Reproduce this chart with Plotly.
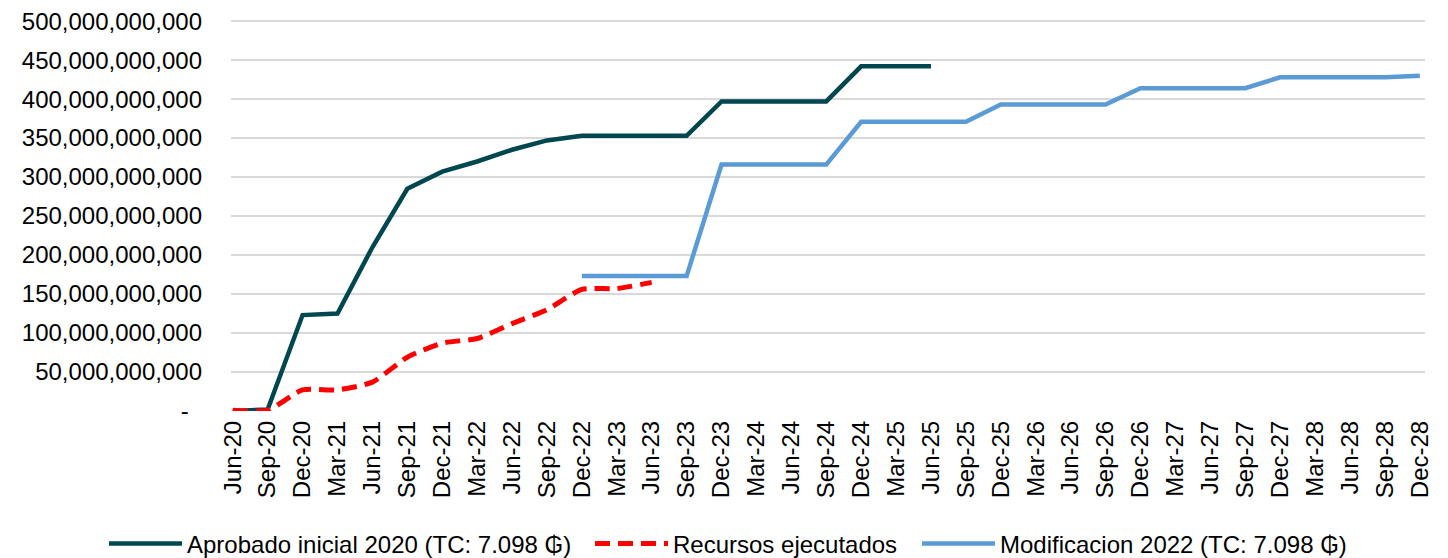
import plotly.graph_objects as go

categories = ["Jun-20", "Sep-20", "Dec-20", "Mar-21", "Jun-21", "Sep-21", "Dec-21",
              "Mar-22", "Jun-22", "Sep-22", "Dec-22", "Mar-23", "Jun-23", "Sep-23",
              "Dec-23", "Mar-24", "Jun-24", "Sep-24", "Dec-24", "Mar-25", "Jun-25",
              "Sep-25", "Dec-25", "Mar-26", "Jun-26", "Sep-26", "Dec-26", "Mar-27",
              "Jun-27", "Sep-27", "Dec-27", "Mar-28", "Jun-28", "Sep-28", "Dec-28"]

B = 1e9
aprobado = [0, 2, 123, 125, 210, 285, 307, 320, 335, 347, 353, 353, 353, 353,
            397, 397, 397, 397, 442, 442, 442]
ejecutados = [1, 1, 27, 27, 37, 69, 87, 93, 112, 130, 156, 157, 165]
modificacion = [None] * 10 + [173, 173, 173, 173, 316, 316, 316, 316, 371, 371, 371, 371,
                              393, 393, 393, 393, 414, 414, 414, 414, 428, 428, 428, 428, 430]

y_tickvals = [0, 50, 100, 150, 200, 250, 300, 350, 400, 450, 500]
y_ticktext = ["-\u00a0\u00a0"] + [f"{v * 1_000_000_000:,}" for v in y_tickvals[1:]]

def scale(vals):
    return [None if v is None else v * B for v in vals]

FONT = "Liberation Sans, Arial, DejaVu Sans, sans-serif"
W, H = 1440, 550  # page body has an 8px margin

fig = go.Figure()
fig.add_trace(go.Scatter(
    x=categories[:len(aprobado)], y=scale(aprobado), mode="lines",
    name="Aprobado inicial 2020 (TC: 7.098 ₲)", legend="legend",
    line=dict(color="#00474f", width=4.5)))
fig.add_trace(go.Scatter(
    x=categories[:len(ejecutados)], y=scale(ejecutados), mode="lines",
    name="Recursos ejecutados", legend="legend2",
    line=dict(color="#ff0000", width=5, dash="15px,8px", shape="spline", smoothing=0.6)))
fig.add_trace(go.Scatter(
    x=categories, y=scale(modificacion), mode="lines",
    name="Modificacion 2022 (TC: 7.098 ₲)", legend="legend3",
    line=dict(color="#5b9bd5", width=4.5)))

def leg(px):
    return dict(orientation="h", xref="container", yref="container",
                x=px / W, xanchor="left", y=14 / H, yanchor="middle",
                font=dict(size=24), itemwidth=73, bgcolor="rgba(0,0,0,0)")

fig.update_layout(
    width=W, height=H,
    margin=dict(l=223, r=23, t=10, b=147, autoexpand=False),
    paper_bgcolor="white", plot_bgcolor="white",
    font=dict(family=FONT, size=24, color="#000000"),
    showlegend=True,
    legend=leg(96), legend2=leg(582), legend3=leg(909),
)
fig.update_xaxes(
    type="category", categoryorder="array", categoryarray=categories,
    range=[-0.05, 34.15], tickangle=-90, tickfont=dict(size=24),
    showgrid=False, showline=False, ticks="", zeroline=False, automargin=False,
    ticklabeloverflow="allow", ticklabelstandoff=4,
)
fig.update_yaxes(
    range=[0, 504 * B], tickvals=[v * B for v in y_tickvals], ticktext=y_ticktext,
    tickfont=dict(size=24), showgrid=True, gridcolor="#d9d9d9", gridwidth=1.5,
    zeroline=False, showline=False, ticks="", ticklabelstandoff=28, automargin=False,
    ticklabeloverflow="allow",
)

fig.write_html("out.html")
